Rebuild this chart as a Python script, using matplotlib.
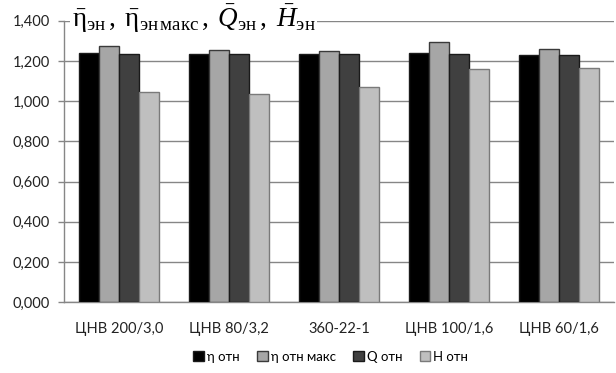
import matplotlib
matplotlib.use("Agg")
import matplotlib.pyplot as plt
import numpy as np
from matplotlib.ticker import FuncFormatter

categories = ["ЦНВ 200/3,0", "ЦНВ 80/3,2", "360-22-1", "ЦНВ 100/1,6", "ЦНВ 60/1,6"]
series_names = ["η отн", "η отн макс", "Q отн", "H отн"]
eta_otn = [1.240, 1.235, 1.235, 1.240, 1.232]
eta_otn_max = [1.273, 1.255, 1.250, 1.297, 1.258]
q_otn = [1.235, 1.235, 1.235, 1.233, 1.228]
h_otn = [1.048, 1.037, 1.071, 1.160, 1.165]
yticks = [0.0, 0.2, 0.4, 0.6, 0.8, 1.0, 1.2, 1.4]

series = [eta_otn, eta_otn_max, q_otn, h_otn]
colors = ["#000000", "#A6A6A6", "#404040", "#BFBFBF"]
edges = ["#1a1a1a", "#3a3a3a", "#1a1a1a", "#7a7a7a"]

plt.rcParams['font.family'] = ['Lato', 'DejaVu Sans']
plt.rcParams['mathtext.fontset'] = 'custom'
plt.rcParams['mathtext.rm'] = 'Liberation Serif'
plt.rcParams['mathtext.it'] = 'Liberation Serif:italic'
plt.rcParams['mathtext.bf'] = 'Liberation Serif:bold'

fig = plt.figure(figsize=(6.16, 3.73), dpi=100)
ax = fig.add_axes([0.104, 0.190, 0.893, 0.754])

x = np.arange(len(categories))
w = 0.1818
for i, (vals, c, e, name) in enumerate(zip(series, colors, edges, series_names)):
    ax.bar(x + (i - 1.5) * w, vals, width=w, color=c, edgecolor=e, linewidth=1.0,
           label=name, zorder=3)

ax.set_xlim(-0.5, len(categories) - 0.5)
ax.set_ylim(0, 1.4)
ax.set_yticks(yticks)
ax.yaxis.set_major_formatter(FuncFormatter(lambda v, p: f"{v:,.3f}".replace(".", ",")))
ax.yaxis.grid(True, color="#868686", linewidth=1.0, zorder=0)
ax.set_axisbelow(True)
ax.set_xticks(x)
ax.set_xticklabels(categories)
ax.tick_params(axis='x', length=0, pad=14, labelsize=10.5, colors="#222222")
ax.tick_params(axis='y', length=4, width=1, color="#868686", labelsize=10.5, colors="#222222", pad=6)
for s in ["top", "right"]:
    ax.spines[s].set_visible(False)
for s in ["left", "bottom"]:
    ax.spines[s].set_color("#868686")
    ax.spines[s].set_linewidth(1.0)

ax.text(0.014, 1.065,
        r"$\bar{\mathrm{η}}_{\mathrm{эн}}\,,\;\bar{\mathrm{η}}_{\mathrm{эн\,макс}}\,,\;\bar{Q}_{\mathrm{эн}}\,,\;\bar{H}_{\mathrm{эн}}$",
        transform=ax.transAxes, fontsize=19.5, va="top", ha="left",
        bbox=dict(facecolor="white", edgecolor="none", pad=1), zorder=2)

handles, labels = ax.get_legend_handles_labels()
fig.legend(handles, labels, loc="center", bbox_to_anchor=(0.537, 0.043), ncol=4, frameon=False,
           fontsize=9.5, handlelength=0.8, handleheight=0.8, handletextpad=0.25,
           columnspacing=1.3)

fig.savefig("out.png", dpi=100)
